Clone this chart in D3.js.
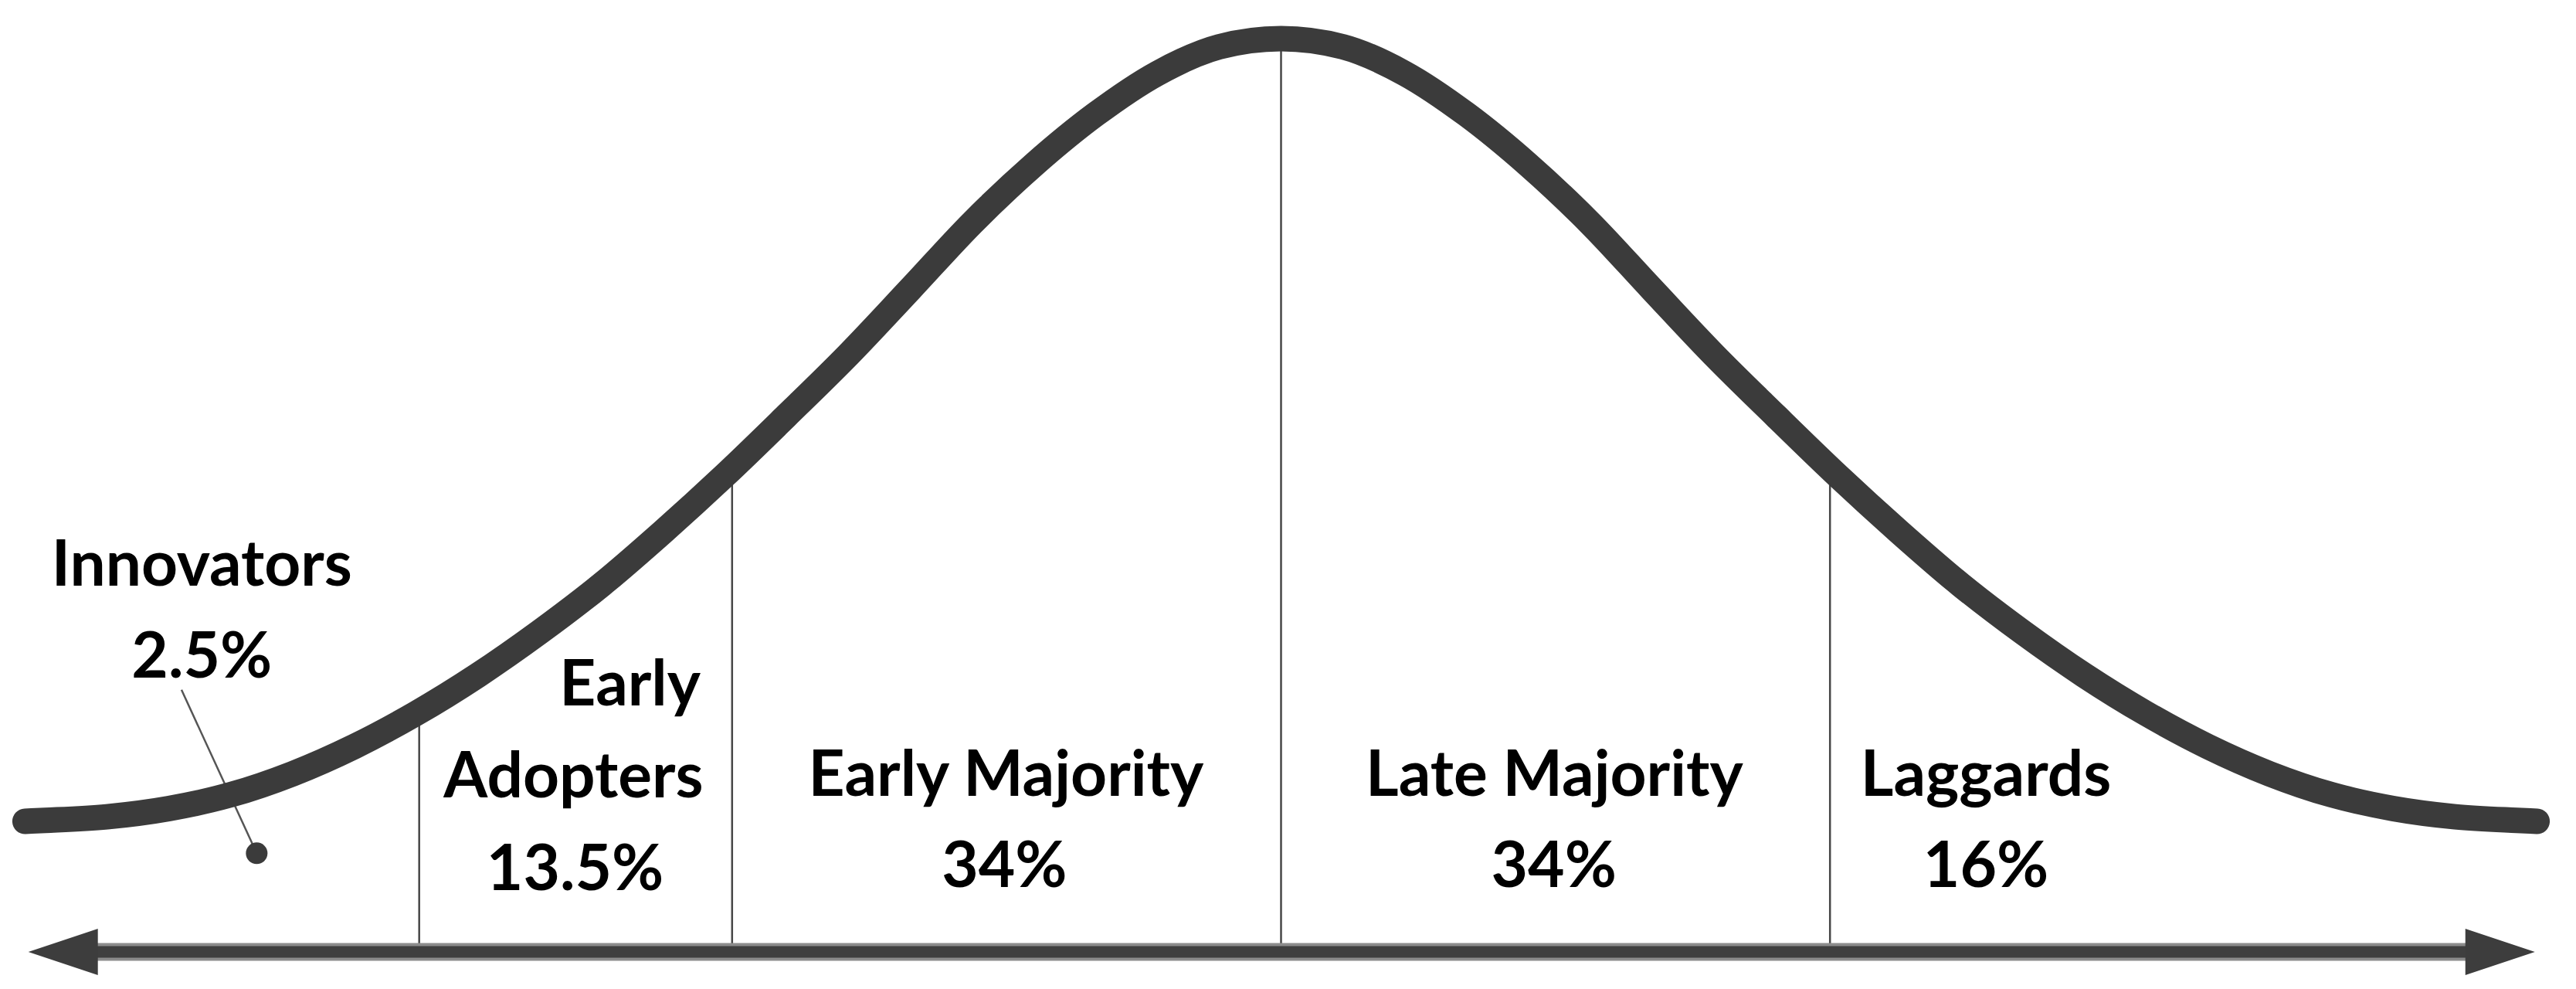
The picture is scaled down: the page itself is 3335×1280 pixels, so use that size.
<!DOCTYPE html>
<html><head><meta charset="utf-8">
<script src="https://cdn.jsdelivr.net/npm/d3@7"></script>
<style>html,body{margin:0;padding:0;background:#fff;} svg{display:block;}</style>
</head><body>
<svg id="chart" width="3335" height="1280"></svg>
<script>
// ---- data ----
// adoption curve, x in standard-deviation units, y as relative height (peak = 100)
const curveX = [-2.288, -2.251, -2.139, -2.026, -1.914, -1.801, -1.688, -1.576, -1.463, -1.351, -1.238, -1.126,
                -1.013, -0.901, -0.788, -0.675, -0.563, -0.450, -0.338, -0.225, -0.113, 0,
                0.113, 0.225, 0.338, 0.450, 0.563, 0.675, 0.788, 0.901, 1.013, 1.126, 1.238,
                1.351, 1.463, 1.576, 1.688, 1.801, 1.914, 2.026, 2.139, 2.251, 2.288];
const curveY = [14.3, 14.4, 14.8, 15.7, 17.2, 19.5, 22.5, 26.1, 30.3, 35.0, 40.2, 46.0,
                52.2, 58.7, 65.4, 72.6, 79.8, 86.2, 91.7, 96.2, 99.1, 100,
                99.1, 96.2, 91.7, 86.2, 79.8, 72.6, 65.4, 58.7, 52.2, 46.0, 40.2,
                35.0, 30.3, 26.1, 22.5, 19.5, 17.2, 15.7, 14.8, 14.4, 14.3];
const segmentNames = ["Innovators", "Early Adopters", "Early Majority", "Late Majority", "Laggards"];
const segmentShares = [2.5, 13.5, 34, 34, 16];
const boundaries = [-1.57, -1, 0, 1];

// ---- layout (positions / styles) ----
const W = 3335, H = 1280;
const x = d3.scaleLinear().domain([-2.29, 2.29]).range([31, 3286]);
const y = d3.scaleLinear().domain([0, 100]).range([1232, 50]);
const axisExtent = [-2.282, 2.284];
const labelLines = [
  [{t: "Innovators", x: -1.966, y: 40.1}, {t: "2.5%", x: -1.966, y: 30.0}],
  [{t: "Early", x: -1.186, y: 27.0}, {t: "Adopters", x: -1.289, y: 16.9}, {t: "13.5%", x: -1.286, y: 6.8}],
  [{t: "Early Majority", x: -0.501, y: 17.1}, {t: "34%", x: -0.504, y: 7.1}],
  [{t: "Late Majority", x: 0.498, y: 17.1}, {t: "34%", x: 0.497, y: 7.1}],
  [{t: "Laggards", x: 1.284, y: 17.1}, {t: "16%", x: 1.284, y: 7.1}]
];
const pointer = {x1: -2.003, y1: 28.7, x2: -1.866, y2: 10.8};

const svg = d3.select("#chart");
svg.append("rect").attr("width", W).attr("height", H).attr("fill", "#fff");

const pts = curveX.map((v, i) => [v, curveY[i]]);
const curveType = d3.curveMonotoneX;

// clip region: area under the curve
const area = d3.area().x(d => x(d[0])).y0(y(0)).y1(d => y(d[1])).curve(curveType);
svg.append("defs").append("clipPath").attr("id", "under")
  .append("path").attr("d", area(pts));

// boundary lines
svg.append("g").attr("clip-path", "url(#under)")
  .selectAll("line").data(boundaries).join("line")
  .attr("x1", d => x(d)).attr("x2", d => x(d))
  .attr("y1", y(0)).attr("y2", 0)
  .attr("stroke", "#474747").attr("stroke-width", 2.5);

// axis with double arrows
const ax0 = x(axisExtent[0]), ax1 = x(axisExtent[1]), ay = y(0);
const headLen = 90, headHalf = 30;
svg.append("line").attr("x1", ax0 + headLen - 2).attr("x2", ax1 - headLen + 2).attr("y1", ay).attr("y2", ay)
  .attr("stroke", "#8c8c8c").attr("stroke-width", 23);
svg.append("line").attr("x1", ax0 + headLen - 2).attr("x2", ax1 - headLen + 2).attr("y1", ay).attr("y2", ay)
  .attr("stroke", "#3f3f3f").attr("stroke-width", 15);
svg.append("path")
  .attr("d", `M${ax0},${ay} L${ax0 + headLen},${ay - headHalf} L${ax0 + headLen},${ay + headHalf} Z`)
  .attr("fill", "#3d3d3d");
svg.append("path")
  .attr("d", `M${ax1},${ay} L${ax1 - headLen},${ay - headHalf} L${ax1 - headLen},${ay + headHalf} Z`)
  .attr("fill", "#3d3d3d");

// innovators pointer
svg.append("line")
  .attr("x1", x(pointer.x1)).attr("y1", y(pointer.y1))
  .attr("x2", x(pointer.x2)).attr("y2", y(pointer.y2))
  .attr("stroke", "#555").attr("stroke-width", 2.5);
svg.append("circle").attr("cx", x(pointer.x2)).attr("cy", y(pointer.y2)).attr("r", 14).attr("fill", "#3b3b3b");

// the curve
const line = d3.line().x(d => x(d[0])).y(d => y(d[1])).curve(curveType);
svg.append("path").attr("d", line(pts))
  .attr("fill", "none").attr("stroke", "#3b3b3b").attr("stroke-width", 33)
  .attr("stroke-linecap", "round").attr("stroke-linejoin", "round");

// labels
const g = svg.append("g")
  .attr("font-family", "Lato, 'Liberation Sans', Arial, sans-serif")
  .attr("font-weight", "bold").attr("font-size", 82).attr("fill", "#000")
  .attr("text-anchor", "middle");
labelLines.forEach((lines, i) => {
  const seg = g.append("g").attr("class", "seg").attr("data-name", segmentNames[i]).attr("data-share", segmentShares[i]);
  lines.forEach(l => {
    seg.append("text").attr("x", x(l.x)).attr("y", y(l.y)).text(l.t);
  });
});
</script>
</body></html>
